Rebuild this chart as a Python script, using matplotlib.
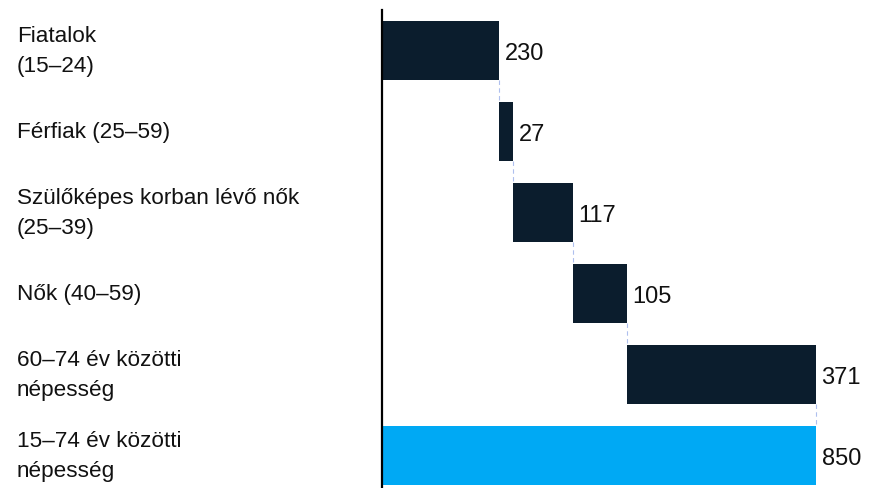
import numpy as np
import matplotlib.pyplot as plt
from matplotlib.transforms import blended_transform_factory

plt.rcParams['font.family'] = ['Liberation Sans', 'DejaVu Sans']

categories = ['Fiatalok\n(15–24)', 'Férfiak (25–59)', 'Szülőképes korban lévő nők\n(25–39)',
              'Nők (40–59)', '60–74 év közötti\nnépesség', '15–74 év közötti\nnépesség']
values = [230, 27, 117, 105, 371, 850]
is_total = [False, False, False, False, False, True]

dark = '#0b1d2d'
blue = '#00a9f4'
conn = '#aebfee'

fig = plt.figure(figsize=(8.78, 4.89), dpi=100)
ax = fig.add_axes([382 / 878, 0, 462 / 878, 478 / 489])

y = np.arange(len(values))
starts = []
cum = 0
for v, t in zip(values, is_total):
    if t:
        starts.append(0)
    else:
        starts.append(cum)
        cum += v
starts = np.array(starts)
vals = np.array(values)
colors = [blue if t else dark for t in is_total]

ax.barh(y, vals, left=starts, height=0.73, color=colors, zorder=2)

# connectors between bars
for i in range(len(values) - 1):
    xe = starts[i] + vals[i]
    ax.plot([xe, xe], [y[i] + 0.365, y[i + 1] - 0.365], color=conn, lw=0.8,
            ls=(0, (4, 3)), zorder=1)

for i, v in enumerate(values):
    ax.text(starts[i] + v + 11, y[i] + 0.03, str(v), va='center', ha='left',
            fontsize=17, color='#111111')

tr = blended_transform_factory(fig.transFigure, ax.transData)
for i, lab in enumerate(categories):
    ax.text(17 / 878, y[i], lab, transform=tr, va='center', ha='left',
            fontsize=16.2, color='#111111', linespacing=1.55)

ax.set_xlim(0, 905)
ax.set_ylim(5.4, -0.5)
for s in ['top', 'right', 'bottom']:
    ax.spines[s].set_visible(False)
ax.spines['left'].set_linewidth(1.6)
ax.spines['left'].set_color('#000000')
ax.set_xticks([])
ax.set_yticks([])

fig.savefig('out.png', dpi=100)
